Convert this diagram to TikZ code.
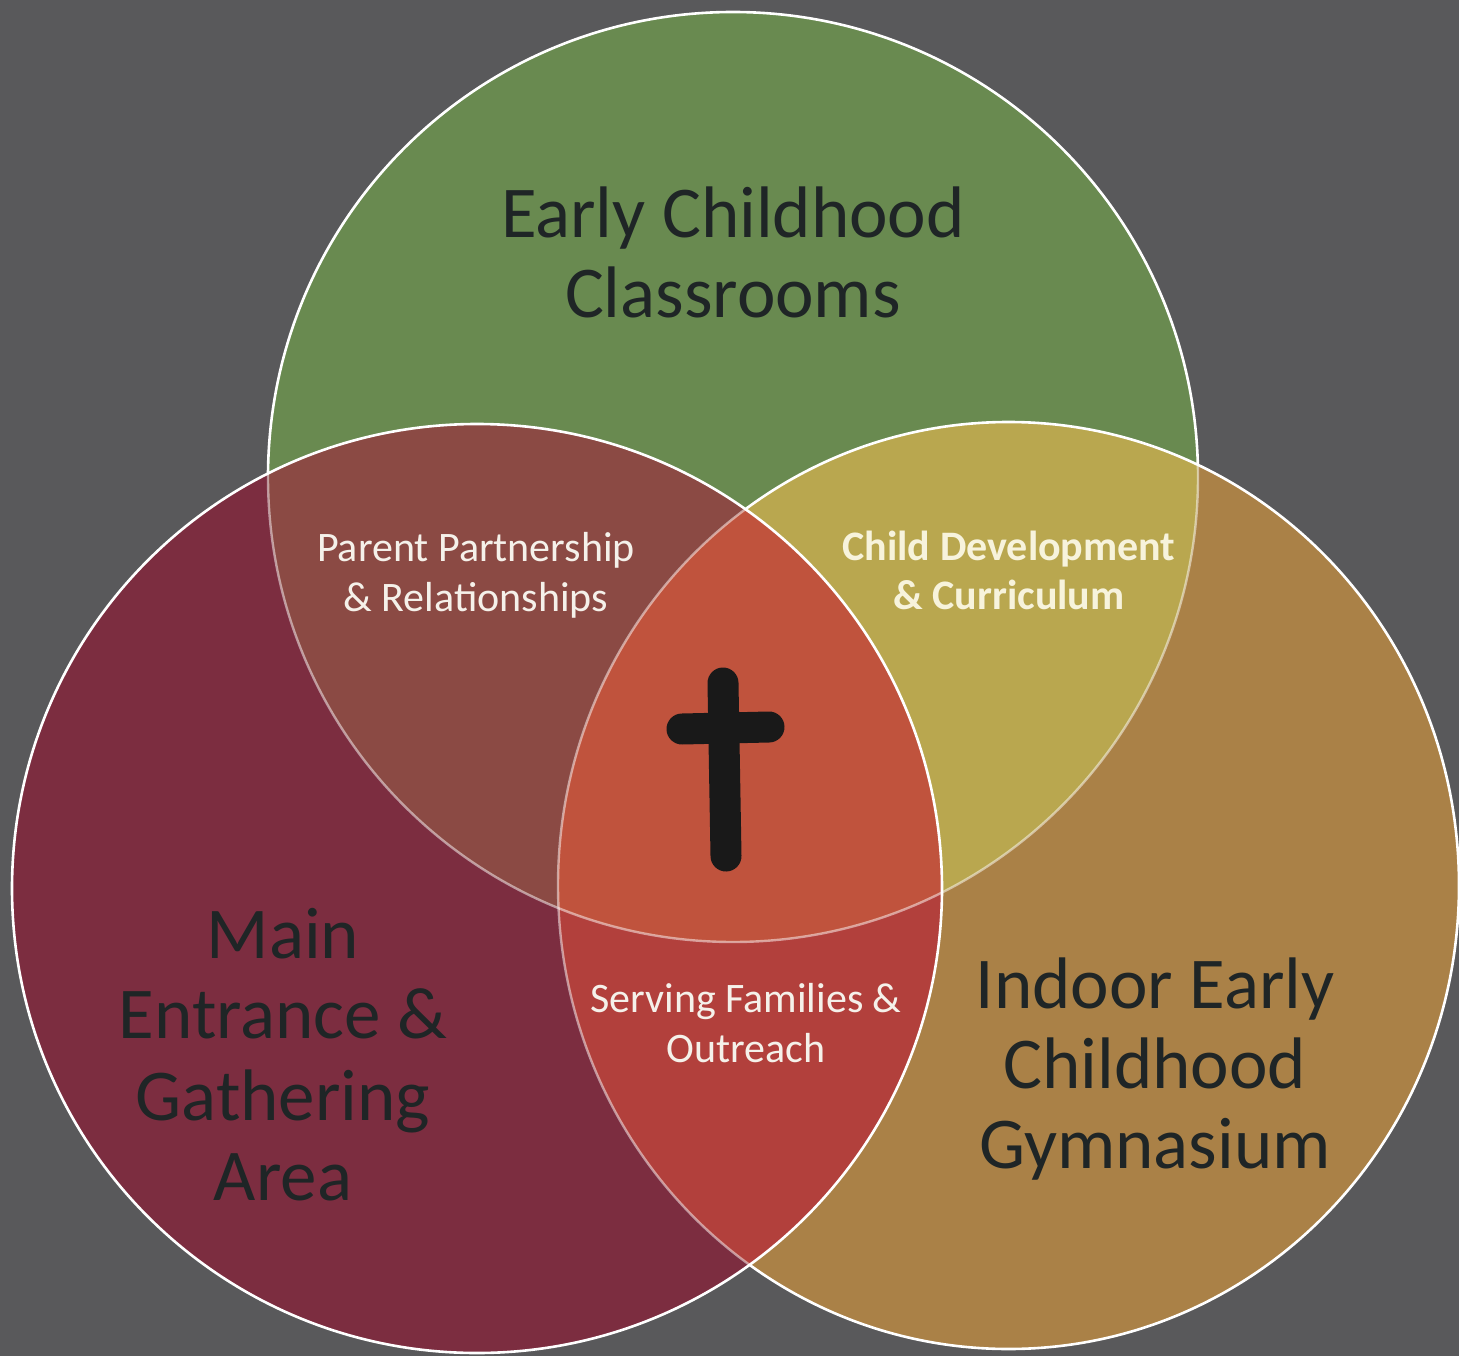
\documentclass[tikz,border=0pt]{standalone}
\usepackage{fontspec}
\setmainfont{Carlito}
\definecolor{bg}{HTML}{59595B}
\definecolor{cG}{HTML}{698A50}
\definecolor{cR}{HTML}{7C2D40}
\definecolor{cO}{HTML}{AA8147}
\definecolor{cGR}{HTML}{8B4A44}
\definecolor{cGO}{HTML}{B9A74F}
\definecolor{cRO}{HTML}{B2403C}
\definecolor{cGRO}{HTML}{C0533D}
\definecolor{darktext}{HTML}{1F2526}
\definecolor{lighttext}{HTML}{F5F1EA}
\definecolor{creamtext}{HTML}{F7F3DC}
\begin{document}
\begin{tikzpicture}[x=1pt,y=-1pt,
  biglabel/.style={text=darktext,font=\fontsize{73}{80}\selectfont,anchor=base,inner sep=0pt},
  smalllabel/.style={text=lighttext,font=\fontsize{42}{48}\selectfont,anchor=base,inner sep=0pt},
  boldlabel/.style={text=creamtext,font=\fontsize{42}{48}\selectfont\bfseries,anchor=base,inner sep=0pt},
  outline/.style={draw=white,line width=2.6pt},
  inline/.style={draw=white,draw opacity=0.5,line width=2.4pt},
  crossbar/.style={draw=black!90,line width=31pt,line cap=round}]
\def\Gc{(733,477) ellipse [x radius=465,y radius=465]}
\def\Rc{(477,888.5) ellipse [x radius=465,y radius=464.5]}
\def\Oc{(1008.5,885.5) ellipse [x radius=450.5,y radius=463.5]}
\useasboundingbox (0,0) rectangle (1459,1356);
\fill[bg] (0,0) rectangle (1459,1356);
% green layer
\fill[cG] \Gc;
\path[outline] \Gc;
% orange layer
\fill[cO] \Oc;
\begin{scope}\clip \Gc; \fill[cGO] \Oc; \end{scope}
\begin{scope}\clip \Oc; \path[inline] \Gc; \end{scope}
\path[outline] \Oc;
% red layer
\fill[cR] \Rc;
\begin{scope}\clip \Gc; \fill[cGR] \Rc; \end{scope}
\begin{scope}\clip \Oc; \fill[cRO] \Rc; \end{scope}
\begin{scope}\clip \Gc; \clip \Oc; \fill[cGRO] \Rc; \end{scope}
\begin{scope}\clip \Rc; \path[inline] \Gc; \path[inline] \Oc; \end{scope}
\path[outline] \Rc;
% cross
\coordinate (vt) at (723,683);
\coordinate (vb) at (726,856);
\coordinate (hl) at (682,729);
\coordinate (hr) at (769,727);
\path[crossbar] (vt) -- (vb);
\path[crossbar] (hl) -- (hr);
% labels
\node[biglabel] (ec1) at (733,238) {Early Childhood};
\node[biglabel] (ec2) at (733,318) {Classrooms};
\node[biglabel] (me1) at (283,958) {Main};
\node[biglabel] (me2) at (283,1038) {Entrance \&};
\node[biglabel] (me3) at (283,1120) {Gathering};
\node[biglabel] (me4) at (283,1200) {Area};
\node[biglabel] (ig1) at (1155,1008) {Indoor Early};
\node[biglabel] (ig2) at (1155,1088) {Childhood};
\node[biglabel] (ig3) at (1155,1168) {Gymnasium};
\node[smalllabel] (pp1) at (476,561) {Parent Partnership};
\node[smalllabel] (pp2) at (476,611) {\& Relationships};
\node[boldlabel] (cd1) at (1009,560) {Child Development};
\node[boldlabel] (cd2) at (1009,609) {\& Curriculum};
\node[smalllabel] (sf1) at (746,1012) {Serving Families \&};
\node[smalllabel] (sf2) at (746,1062) {Outreach};
\end{tikzpicture}
\end{document}
